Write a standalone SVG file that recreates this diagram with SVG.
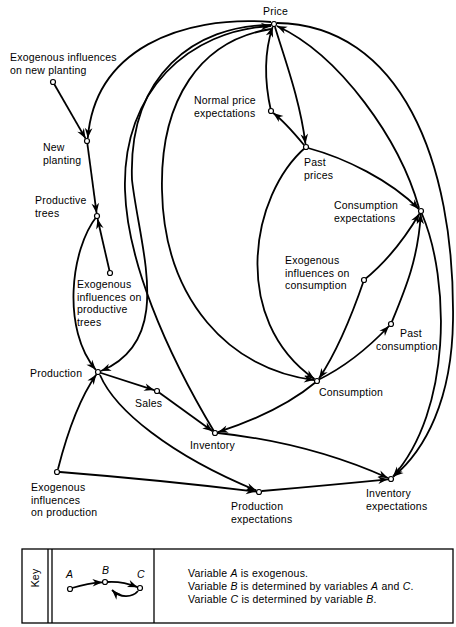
<svg xmlns="http://www.w3.org/2000/svg" width="456" height="627" viewBox="0 0 456 627">
<defs>
<style>
.e{fill:none;stroke:#000;stroke-width:1.8;marker-end:url(#ah)}
.n{fill:#fff;stroke:#000;stroke-width:1.2}
.t{font-family:"Liberation Sans",Arial,sans-serif;font-size:10.5px;letter-spacing:.2px;fill:#000}
.k{fill:none;stroke:#000;stroke-width:1.3}
</style>
<marker id="ah" markerUnits="userSpaceOnUse" viewBox="-11 -5 12 10" refX="0" refY="0" markerWidth="12" markerHeight="10" orient="auto">
<path d="M0,0 L-10,-3.8 L-7,0 L-10,3.8 Z" fill="#000"/>
</marker>
</defs>
<rect width="456" height="627" fill="#fff"/>
<g id="connectors">
<path class="e" d="M53,82 L85.6,138.6"/>
<path class="e" d="M271,22 C180,15 95,50 87.8,138"/>
<path class="e" d="M87,141 L96.6,213.2"/>
<path class="e" d="M110,273 L97.6,219"/>
<path class="e" d="M97,216 C70,250 62,330 95.8,369.8"/>
<path class="e" d="M271,25 C195,25 128,75 132,180 C140,250 175,340 101,371"/>
<path class="e" d="M215,433 C165,350 127,260 125,190 C122,90 190,30 271,26"/>
<path class="e" d="M271,29 C200,40 160,100 162,190 C164,300 230,370 314,380"/>
<path class="e" d="M306,147 C250,195 230,320 314.5,379"/>
<path class="e" d="M275,27 C285,60 300,100 305.5,144"/>
<path class="e" d="M304,145 Q285,122 273.2,113"/>
<path class="e" d="M271,111 C264,80 265,50 272.6,27"/>
<path class="e" d="M419,208 C400,140 340,55 277,26"/>
<path class="e" d="M308,148 C345,158 390,180 418.8,209"/>
<path class="e" d="M277,23 C400,25 455,160 453,320 C452,400 425,450 393.5,476.5"/>
<path class="e" d="M422,214 C450,280 452,410 393,476.5"/>
<path class="e" d="M364,280 Q395,255 419.5,213.5"/>
<path class="e" d="M364,280 C352,315 338,350 319,378.5"/>
<path class="e" d="M318,380 Q355,362 389,326"/>
<path class="e" d="M391,324 C405,290 418,260 420.8,214"/>
<path class="e" d="M316,382 Q280,412 218,432.2"/>
<path class="e" d="M218,433 Q310,443 388,478"/>
<path class="e" d="M262,491 Q330,485 388,479.3"/>
<path class="e" d="M60,472 Q160,480 256,491.6"/>
<path class="e" d="M100,375 C115,410 170,455 256.3,490.5"/>
<path class="e" d="M58,469 C68,430 82,395 96.3,374.6"/>
<path class="e" d="M98,372 L154.2,390.1"/>
<path class="e" d="M157,391 L212.6,431.2"/>
</g>
<g id="price"><circle class="n" cx="274" cy="24" r="2.5"/><text class="t" x="263" y="15">Price</text></g>
<g id="exog-new-planting"><circle class="n" cx="53" cy="82" r="2.5"/><text class="t" x="10" y="61">Exogenous influences<tspan x="10" dy="12.5">on new planting</tspan></text></g>
<g id="new-planting"><circle class="n" cx="87" cy="141" r="2.5"/><text class="t" x="43" y="151">New<tspan x="43" dy="12.5">planting</tspan></text></g>
<g id="productive-trees"><circle class="n" cx="97" cy="216" r="2.5"/><text class="t" x="35" y="204">Productive<tspan x="35" dy="12.5">trees</tspan></text></g>
<g id="exog-productive-trees"><circle class="n" cx="110" cy="273" r="2.5"/><text class="t" x="77" y="288">Exogenous<tspan x="77" dy="12.5">influences on</tspan><tspan x="77" dy="12.5">productive</tspan><tspan x="77" dy="12.5">trees</tspan></text></g>
<g id="production"><circle class="n" cx="98" cy="372" r="2.5"/><text class="t" x="30" y="377">Production</text></g>
<g id="sales"><circle class="n" cx="157" cy="391" r="2.5"/><text class="t" x="135" y="407">Sales</text></g>
<g id="inventory"><circle class="n" cx="215" cy="433" r="2.5"/><text class="t" x="190" y="449">Inventory</text></g>
<g id="exog-production"><circle class="n" cx="57" cy="472" r="2.5"/><text class="t" x="31" y="491">Exogenous<tspan x="31" dy="12.5">influences</tspan><tspan x="31" dy="12.5">on production</tspan></text></g>
<g id="production-expectations"><circle class="n" cx="259" cy="492" r="2.5"/><text class="t" x="231" y="510">Production<tspan x="231" dy="12.5">expectations</tspan></text></g>
<g id="inventory-expectations"><circle class="n" cx="391" cy="479" r="2.5"/><text class="t" x="366" y="497">Inventory<tspan x="366" dy="12.5">expectations</tspan></text></g>
<g id="normal-price-expectations"><circle class="n" cx="271" cy="111" r="2.5"/><text class="t" x="194" y="104">Normal price<tspan x="194" dy="12.5">expectations</tspan></text></g>
<g id="past-prices"><circle class="n" cx="306" cy="147" r="2.5"/><text class="t" x="304" y="166">Past<tspan x="304" dy="12.5">prices</tspan></text></g>
<g id="consumption-expectations"><circle class="n" cx="421" cy="211" r="2.5"/><text class="t" x="334" y="209">Consumption<tspan x="334" dy="12.5">expectations</tspan></text></g>
<g id="exog-consumption"><circle class="n" cx="364" cy="280" r="2.5"/><text class="t" x="285" y="264">Exogenous<tspan x="285" dy="12.5">influences on</tspan><tspan x="285" dy="12.5">consumption</tspan></text></g>
<g id="past-consumption"><circle class="n" cx="391" cy="324" r="2.5"/><text class="t" x="400" y="337">Past<tspan x="376" dy="12.5">consumption</tspan></text></g>
<g id="consumption"><circle class="n" cx="317" cy="381" r="2.5"/><text class="t" x="319" y="396">Consumption</text></g>
<g id="key">
<rect class="k" x="22" y="549" width="431" height="74"/>
<line class="k" x1="48" y1="549" x2="48" y2="623"/>
<line class="k" x1="52" y1="549" x2="52" y2="623"/>
<line class="k" x1="154" y1="549" x2="154" y2="623"/>
<text class="t" transform="translate(38.5,578) rotate(-90)" text-anchor="middle">Key</text>
<path class="e" d="M72,588 Q88,583 102.5,582.3"/>
<path class="e" d="M107.5,582 Q122,581 137.6,587.2"/>
<path class="e" d="M138,591 C132,598 120,598 112,590"/>
<circle class="n" cx="70" cy="589" r="2.5"/>
<circle class="n" cx="105" cy="582" r="2.5"/>
<circle class="n" cx="140" cy="588" r="2.5"/>
<text class="t" x="66" y="578" font-style="italic">A</text>
<text class="t" x="102" y="574" font-style="italic">B</text>
<text class="t" x="137" y="578" font-style="italic">C</text>
<text class="t" x="188" y="577">Variable <tspan font-style="italic">A</tspan> is exogenous.</text>
<text class="t" x="188" y="590">Variable <tspan font-style="italic">B</tspan> is determined by variables <tspan font-style="italic">A</tspan> and <tspan font-style="italic">C</tspan>.</text>
<text class="t" x="188" y="603">Variable <tspan font-style="italic">C</tspan> is determined by variable <tspan font-style="italic">B</tspan>.</text>
</g>
</svg>
